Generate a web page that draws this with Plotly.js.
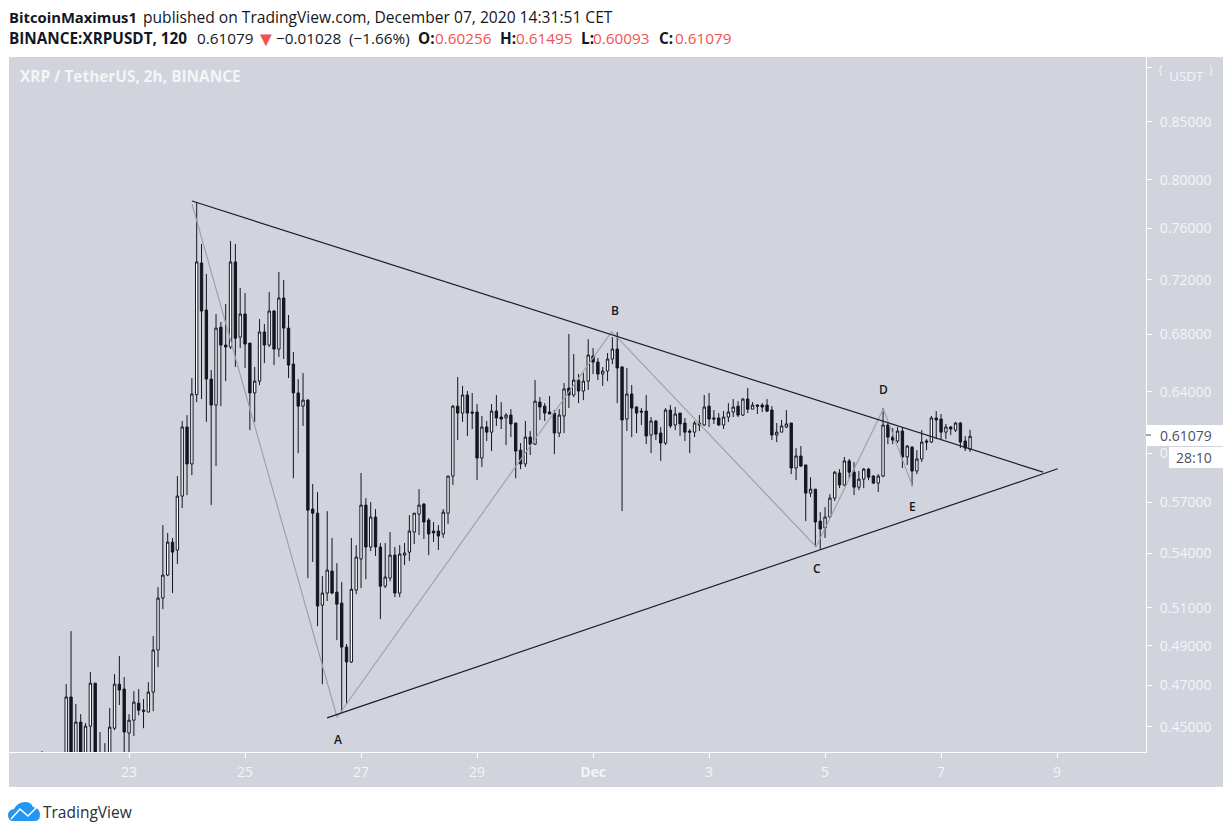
<!DOCTYPE html>
<html>
<head>
<meta charset="utf-8">
<script src="https://cdn.plot.ly/plotly-3.0.1.min.js"></script>
<style>html,body{margin:0;padding:0;background:#fff}#chart{width:1232px;height:835px}</style>
</head>
<body>
<div id="chart"></div>
<script>
// Two-hour candles. Index 0 is 21 Nov 2020 12:00.
const firstCandle = Date.UTC(2020, 10, 21, 12);
const candleStep = 2 * 3600 * 1000;

const opens = [
.4300,.4310,.4290,.4270,.4300,.4280,.4644,.4320,.4523,.4330,
.4504,.4712,.4370,.4290,.4330,.4494,.4707,.4683,.4471,.4532,
.4614,.4580,.4571,.4668,.4879,.5153,.5279,.5465,.5420,.5736,
.6168,.5933,.6382,.7329,.6975,.6487,.6312,.6851,.6723,.6709,
.7337,.6779,.6946,.6737,.6393,.6473,.6816,.6723,.6968,.6695,
.7064,.6844,.6590,.6393,.6305,.6345,.5658,.5634,.5115,.5180,
.5301,.5185,.5126,.4894,.4818,.5196,.5369,.5682,.5437,.5611,
.5437,.5218,.5262,.5391,.5180,.5391,.5408,.5523,.5628,.5688,
.5593,.5529,.5529,.5512,.5634,.5858,.6305,.6259,.6379,.6266,
.6266,.5970,.6168,.6135,.6272,.6233,.6227,.6246,.6194,.6020,
.5933,.6103,.6058,.6332,.6305,.6266,.6259,.6129,.6240,.6426,
.6379,.6480,.6406,.6473,.6646,.6604,.6521,.6542,.6625,.6695,
.6570,.6220,.6386,.6299,.6272,.6272,.6116,.6207,.6129,.6065,
.6279,.6181,.6259,.6194,.6142,.6135,.6194,.6181,.6305,.6227,
.6227,.6181,.6233,.6266,.6305,.6246,.6352,.6285,.6312,.6312,
.6312,.6279,.6116,.6135,.6168,.6194,.5908,.5983,.5927,.5754,
.5778,.5587,.5547,.5611,.5724,.5877,.5803,.5952,.5882,.5790,
.5839,.5901,.5858,.5815,.5858,.6181,.6103,.6078,.6142,.5977,
.6039,.5889,.5964,.6078,.6071,.6227,.6220,.6135,.6168,.6148,
.6194,.6078,.60256];

const highs = [
.4387,.4350,.4340,.4330,.4340,.4707,.4977,.4610,.4561,.4518,
.4767,.4712,.4476,.4424,.4590,.4757,.4848,.4742,.4561,.4673,
.4683,.4634,.4717,.4951,.5213,.5564,.5518,.5489,.5858,.6207,
.6246,.6494,.7814,.7477,.7245,.6549,.6946,.6888,.7019,.7500,
.7477,.7139,.7101,.6737,.6570,.6909,.6873,.7109,.6975,.7260,
.7199,.6939,.6674,.6487,.6528,.6352,.5809,.5760,.5273,.5646,
.5489,.5346,.5240,.4910,.5489,.5448,.5877,.5724,.5700,.5658,
.5460,.5460,.5523,.5437,.5448,.5460,.5622,.5634,.5778,.5694,
.5605,.5582,.5564,.5658,.5858,.6312,.6501,.6440,.6406,.6393,
.6319,.6240,.6207,.6319,.6379,.6332,.6259,.6285,.6194,.6065,
.6207,.6142,.6480,.6365,.6325,.6372,.6279,.6285,.6460,.6802,
.6660,.6521,.6528,.6765,.6702,.6632,.6570,.6667,.6779,.6816,
.6577,.6563,.6446,.6305,.6292,.6379,.6233,.6214,.6168,.6292,
.6312,.6299,.6259,.6227,.6155,.6207,.6246,.6379,.6393,.6279,
.6259,.6272,.6325,.6352,.6338,.6358,.6426,.6332,.6319,.6325,
.6352,.6305,.6194,.6214,.6279,.6194,.6033,.6046,.5927,.5851,
.5778,.5640,.5670,.5748,.5889,.5901,.5977,.5964,.5945,.5889,
.5908,.5908,.5864,.5870,.6292,.6194,.6161,.6168,.6168,.6052,
.6046,.6020,.6148,.6090,.6240,.6272,.6253,.6188,.6175,.6201,
.6201,.6110,.61495];

const lows = [
.4250,.4240,.4210,.4220,.4230,.4230,.4270,.4290,.4290,.4300,
.4346,.4300,.4270,.4260,.4300,.4485,.4605,.4350,.4360,.4457,
.4556,.4494,.4571,.4575,.4792,.5093,.5273,.5180,.5341,.5664,
.5742,.5864,.6332,.6352,.6201,.5682,.5920,.6305,.6473,.6695,
.6570,.6702,.6563,.6148,.6201,.6446,.6597,.6709,.6583,.6639,
.6625,.6494,.5845,.6001,.6175,.5262,.5352,.5003,.4707,.5137,
.5174,.4930,.4571,.4610,.4813,.5174,.5207,.5256,.5414,.5386,
.5040,.5207,.5245,.5158,.5158,.5335,.5358,.5454,.5506,.5483,
.5391,.5465,.5420,.5489,.5570,.5803,.6084,.6201,.6110,.6155,
.5833,.5914,.6078,.6014,.6175,.6155,.6052,.6103,.5845,.5901,
.5914,.5989,.6052,.6214,.6207,.6253,.5995,.6103,.6129,.6292,
.6365,.6325,.6345,.6413,.6521,.6480,.6440,.6473,.6590,.6325,
.5646,.6142,.6103,.6129,.6181,.6058,.6001,.6084,.5952,.6052,
.6161,.6148,.6110,.6078,.6001,.6103,.6142,.6175,.6168,.6188,
.6175,.6155,.6201,.6233,.6233,.6240,.6259,.6285,.6253,.6266,
.6266,.6084,.6071,.6135,.6161,.5870,.5833,.5914,.5587,.5730,
.5437,.5426,.5489,.5605,.5706,.5784,.5796,.5845,.5742,.5772,
.5784,.5833,.5809,.5760,.5851,.6058,.6058,.6065,.5908,.5927,
.5796,.5870,.5945,.6020,.6065,.6090,.6084,.6090,.6116,.6135,
.6033,.6014,.60093];

const closes = [
.4310,.4290,.4270,.4300,.4280,.4644,.4320,.4523,.4330,.4504,
.4712,.4340,.4300,.4350,.4499,.4707,.4678,.4476,.4532,.4619,
.4580,.4575,.4668,.4879,.5153,.5279,.5465,.5408,.5736,.6168,
.5933,.6386,.7337,.6968,.6487,.6312,.6844,.6723,.6709,.7337,
.6772,.6946,.6730,.6393,.6473,.6816,.6723,.6968,.6695,.7064,
.6844,.6583,.6393,.6305,.6345,.5652,.5634,.5110,.5180,.5307,
.5180,.5120,.4894,.4818,.5201,.5380,.5682,.5437,.5611,.5437,
.5218,.5268,.5391,.5180,.5397,.5403,.5529,.5634,.5682,.5582,
.5512,.5518,.5500,.5640,.5858,.6305,.6259,.6379,.6259,.6259,
.5970,.6168,.6135,.6272,.6227,.6220,.6246,.6188,.6014,.5933,
.6103,.6058,.6338,.6299,.6259,.6253,.6129,.6246,.6420,.6379,
.6480,.6406,.6473,.6653,.6604,.6521,.6542,.6625,.6695,.6563,
.6214,.6386,.6292,.6259,.6266,.6110,.6207,.6122,.6065,.6279,
.6175,.6253,.6188,.6135,.6135,.6194,.6181,.6299,.6220,.6220,
.6181,.6233,.6266,.6299,.6246,.6352,.6285,.6312,.6305,.6299,
.6272,.6116,.6135,.6175,.6188,.5908,.5983,.5920,.5754,.5778,
.5582,.5541,.5611,.5724,.5882,.5803,.5952,.5882,.5790,.5839,
.5901,.5851,.5815,.5858,.6181,.6103,.6084,.6142,.5977,.6046,
.5889,.5964,.6071,.6071,.6227,.6214,.6135,.6168,.6155,.6194,
.6071,.6033,.61079];

// Drawings on the chart
const upperLineX = ['2020-11-24 02:04', '2020-12-08 18:13'];
const upperLineY = [.7822, .5882];
const lowerLineX = ['2020-11-26 09:56', '2020-12-09 00:17'];
const lowerLineY = [.4543, .5903];
const waveX = ['2020-11-24 02:04', '2020-11-26 14:04', '2020-12-01 07:44', '2020-12-04 20:17', '2020-12-06 00:07', '2020-12-06 12:07'];
const waveY = [.7798, .4546, .6819, .5439, .6286, .5798];
const waveNames = ['A', 'B', 'C', 'D', 'E'];
const waveNameX = ['2020-11-26 14:30', '2020-12-01 08:54', '2020-12-04 20:30', '2020-12-06 00:15', '2020-12-06 12:00'];
const waveNameY = [.4443, .6975, .5318, .6413, .5676];

// Axis labels
const priceTicks = [.90, .85, .80, .76, .72, .68, .64, .60, .57, .54, .51, .49, .47, .45];
const priceLabels = ['', '0.85000', '0.80000', '0.76000', '0.72000', '0.68000', '0.64000', '0.60000', '0.57000', '0.54000', '0.51000', '0.49000', '0.47000', '0.45000'];
const dateTicks = ['2020-11-23', '2020-11-25', '2020-11-27', '2020-11-29', '2020-12-01', '2020-12-03', '2020-12-05', '2020-12-07', '2020-12-09'];
const dateLabels = ['23', '25', '27', '29', '<b>Dec</b>', '3', '5', '7', '9'];

// Page geometry in pixels, mapped to paper coordinates
const L = 9, R = 1146, T = 57, B = 752, W = 1232, H = 835;
const px = x => (x - L) / (R - L);
const py = y => (B - y) / (B - T);
const pt = (x, y) => px(x) + ' ' + py(y);

const FONT = '"Open Sans", "Noto Sans", sans-serif';
const INK = '#131722';
const SOFT = '#f4f5f7';
const RED = '#ef5350';

function pageText(text, x, y, size, color, anchor) {
  return {text, x: px(x), y: py(y), xref: 'paper', yref: 'paper', xanchor: anchor || 'left', yanchor: 'middle',
          showarrow: false, borderpad: 0, font: {family: FONT, size, color}};
}
function paperRect(x0, y0, x1, y1, fill, layer) {
  return {type: 'rect', xref: 'paper', yref: 'paper', x0: px(x0), y0: py(y0), x1: px(x1), y1: py(y1),
          fillcolor: fill, line: {width: 0}, layer};
}

const candles = {
  type: 'candlestick',
  x: opens.map((_, i) => firstCandle + i * candleStep),
  open: opens, high: highs, low: lows, close: closes,
  width: 5200000,
  increasing: {line: {color: INK, width: 1}, fillcolor: '#ffffff'},
  decreasing: {line: {color: INK, width: 1}, fillcolor: INK},
  whiskerwidth: 0,
  hoverinfo: 'skip',
  showlegend: false
};
const wave = {type: 'scatter', mode: 'lines', x: waveX, y: waveY, line: {color: '#a0a2a9', width: 1.2}, hoverinfo: 'skip', showlegend: false};
const upper = {type: 'scatter', mode: 'lines', x: upperLineX, y: upperLineY, line: {color: '#1b1e28', width: 1.2}, hoverinfo: 'skip', showlegend: false};
const lower = {type: 'scatter', mode: 'lines', x: lowerLineX, y: lowerLineY, line: {color: '#1b1e28', width: 1.2}, hoverinfo: 'skip', showlegend: false};

const HS = 15.3;
const annotations = [
  pageText('<b>BitcoinMaximus1</b>', 8, 17, 14.8, INK),
  pageText('published on TradingView.com, December 07, 2020 14:31:51 CET', 142, 17, 15.6, INK),
  pageText('<b>BINANCE:XRPUSDT, 120</b>', 8, 38, HS, INK),
  pageText('0.61079', 196, 38, HS, INK),
  pageText('▼', 255, 38, 20, RED),
  pageText('−0.01028', 275, 38, HS, INK),
  pageText('(−1.66%)', 348, 38, HS, INK),
  pageText('<b>O:</b>', 417, 38, HS, INK),
  pageText('0.60256', 434, 38, HS, RED),
  pageText('<b>H:</b>', 499, 38, HS, INK),
  pageText('0.61495', 515, 38, HS, RED),
  pageText('<b>L:</b>', 580, 38, HS, INK),
  pageText('0.60093', 592, 38, HS, RED),
  pageText('<b>C:</b>', 658, 38, HS, INK),
  pageText('0.61079', 674, 38, HS, RED),
  pageText('<b>XRP / TetherUS, 2h, BINANCE</b>', 19, 76, 15.4, SOFT),
  pageText('USDT', 1168, 76, 13.5, SOFT),
  pageText('(', 1158, 70, 12, SOFT),
  pageText(')', 1208, 70, 12, SOFT),
  pageText('0.61079', 1159, 435, 14, '#4c525e'),
  pageText('28:10', 1175, 457, 14, '#4c525e'),
  pageText('TradingView', 42, 812, 15.5, '#2a2e39')
].concat(waveNames.map((n, i) => ({
  text: n, x: waveNameX[i], y: Math.log10(waveNameY[i]), xref: 'x', yref: 'y',
  showarrow: false, xanchor: 'center', yanchor: 'middle',
  font: {family: FONT, size: 12, color: INK, weight: 600}
})));

const cloud = 'M ' + pt(12, 821) + ' Q ' + pt(8, 820) + ' ' + pt(8, 815) + ' Q ' + pt(8, 810) + ' ' + pt(14, 809) +
  ' Q ' + pt(18, 802) + ' ' + pt(25, 802) + ' Q ' + pt(31, 802) + ' ' + pt(33, 807) +
  ' Q ' + pt(40, 808) + ' ' + pt(40, 815) + ' Q ' + pt(40, 821) + ' ' + pt(34, 821) + ' Z';
const cloudLine = 'M ' + pt(11, 819) + ' L ' + pt(20, 809) + ' L ' + pt(28, 816) + ' L ' + pt(37, 807);

const shapes = [
  paperRect(9, 57, 1223, 787, '#d1d4dc', 'below'),
  paperRect(1147, 425, 1223, 446, '#ffffff', 'above'),
  paperRect(1169, 447, 1223, 468, '#ffffff', 'above'),
  {type: 'line', xref: 'paper', yref: 'paper', x0: px(1146), x1: px(1151), y0: py(435), y1: py(435), line: {color: '#4c525e', width: 1}, layer: 'above'},
  {type: 'path', xref: 'paper', yref: 'paper', path: cloud, fillcolor: '#2196f3', line: {width: 0}, layer: 'above'},
  {type: 'path', xref: 'paper', yref: 'paper', path: cloudLine, line: {color: '#ffffff', width: 1.5}, layer: 'above'}
];

const layout = {
  width: W, height: H,
  margin: {l: L, r: W - R, t: T, b: H - B, pad: 0},
  paper_bgcolor: '#ffffff',
  plot_bgcolor: '#d1d4dc',
  showlegend: false,
  dragmode: false,
  hovermode: false,
  annotations, shapes,
  xaxis: {
    type: 'date',
    range: ['2020-11-20 22:20', '2020-12-10 12:48'],
    tickmode: 'array', tickvals: dateTicks, ticktext: dateLabels,
    ticks: 'outside', ticklen: 5, tickcolor: '#ffffff', tickwidth: 1,
    showgrid: false, zeroline: false,
    showline: true, linecolor: '#ffffff', linewidth: 1,
    rangeslider: {visible: false},
    tickfont: {family: FONT, size: 14, color: SOFT},
    ticklabelstandoff: 2
  },
  yaxis: {
    type: 'log', side: 'right',
    range: [Math.log10(.4383), Math.log10(.9101)],
    tickmode: 'array', tickvals: priceTicks, ticktext: priceLabels,
    ticks: 'outside', ticklen: 5, tickcolor: '#ffffff', tickwidth: 1,
    showgrid: false, zeroline: false,
    showline: true, linecolor: '#ffffff', linewidth: 1,
    tickfont: {family: FONT, size: 14, color: SOFT},
    ticklabelstandoff: 5
  }
};

Plotly.newPlot('chart', [candles, wave, upper, lower], layout, {staticPlot: true, displayModeBar: false});
</script>
</body>
</html>
